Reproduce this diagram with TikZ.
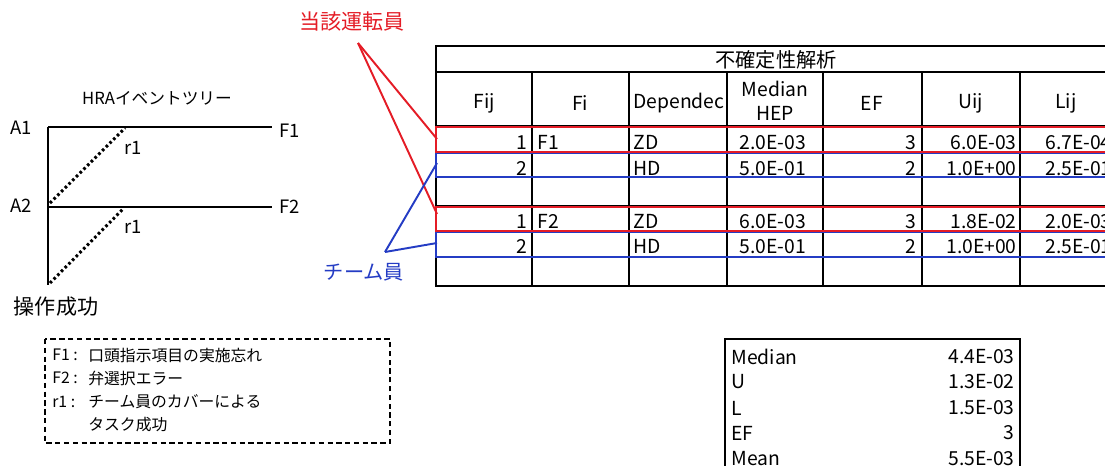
\documentclass[tikz,border=0pt]{standalone}
\usepackage{fontspec}
\setmainfont{Noto Sans CJK JP}
\usepackage{tikz}
\usetikzlibrary{positioning}
\definecolor{opred}{RGB}{228,28,38}
\definecolor{teamblue}{RGB}{36,60,196}
\tikzstyle{treeline} = [line width=1.7pt]
\tikzstyle{coverline} = [line width=1.7pt, dash pattern=on 1.5pt off 1.5pt]
\tikzstyle{treelabel} = [inner sep=0pt, font=\fontsize{10.5}{12}\selectfont]
\tikzstyle{cell} = [inner sep=0pt, anchor=base, font=\fontsize{11}{14}\selectfont]
\tikzstyle{tablegrid} = [line width=0.9pt]
\tikzstyle{redbox} = [draw=opred, line width=1.4pt]
\tikzstyle{bluebox} = [draw=teamblue, line width=1pt]
\tikzstyle{redline} = [opred, line width=1.1pt]
\tikzstyle{blueline} = [teamblue, line width=1.1pt]
\tikzstyle{legendtext} = [inner sep=0pt, anchor=west, font=\fontsize{9}{11}\selectfont]

\begin{document}
\begin{tikzpicture}[x=0.02cm, y=-0.02cm]
\path[use as bounding box, clip] (0,0) rectangle (1105,466);

% event tree
\coordinate (a1) at (48,127);
\coordinate (f1end) at (272,127);
\coordinate (a2) at (48,207);
\coordinate (f2end) at (272,207);
\coordinate (succ) at (48,285);
\coordinate (r1a) at (125,128);
\coordinate (r1b) at (124,208);
\node[inner sep=0pt, font=\fontsize{9.5}{11}\selectfont] (treetitle) at (157,98) {HRAイベントツリー};
\node[treelabel] (A1) at (21,128) {A1};
\node[treelabel] (A2) at (21,206) {A2};
\node[treelabel] (F1) at (290,131) {F1};
\node[treelabel] (F2) at (290,207) {F2};
\node[treelabel] (r1up) at (133,148) {r1};
\node[treelabel] (r1low) at (133,227) {r1};
\node[inner sep=0pt, font=\fontsize{12}{14}\selectfont] (success) at (56,307) {操作成功};
\draw[treeline] (a1) -- (f1end);
\draw[treeline] (a2) -- (f2end);
\draw[treeline] (a1) -- (succ);
\draw[coverline] ([shift={(2,-4)}]a2) -- (r1a);
\draw[coverline] ([shift={(2,-2)}]succ) -- (r1b);

% legend
\draw[line width=0.7pt, dash pattern=on 3pt off 2pt] (45,339) rectangle (390,443);
\node[legendtext] (keyF1) at (52,355) {F1 :};
\node[legendtext] (keyF2) at (52,378) {F2 :};
\node[legendtext] (keyr1) at (52,402) {r1 :};
\node[legendtext] (txtF1) at (88,355) {口頭指示項目の実施忘れ};
\node[legendtext] (txtF2) at (88,378) {弁選択エラー};
\node[legendtext] (txtr1) at (88,402) {チーム員のカバーによる};
\node[legendtext] (txtr1b) at (88,425) {タスク成功};

% uncertainty table
\draw[tablegrid] (436,46) rectangle (1116,286);
\foreach \y in {72,126,153,177,206,231,257}
  \draw[tablegrid] (436,\y) -- (1116,\y);
\foreach \x in {532,629,727,823,922,1020}
  \draw[tablegrid] (\x,72) -- (\x,286);
\node[cell, anchor=center, font=\fontsize{11.5}{14}\selectfont] (tabtitle) at (776,60) {不確定性解析};
\node[cell, anchor=center] (hFij) at (484,103) {Fij};
\node[cell, anchor=center] (hFi) at (580,103) {Fi};
\node[cell, anchor=west] (hDep) at (633,103) {Dependec};
\node[cell, anchor=center, align=center] (hMed) at (775,101) {Median\\HEP};
\node[cell, anchor=center] (hEF) at (872,103) {EF};
\node[cell, anchor=center] (hUij) at (971,103) {Uij};
\node[cell, anchor=center] (hLij) at (1066,103) {Lij};
\foreach \y/\fijv/\fiv/\depv/\medv/\efv/\uijv/\lijv [count=\rw] in
  {150/1/F1/ZD/2.0E-03/3/6.0E-03/6.7E-04,
   175/2//HD/5.0E-01/2/1.0E+00/2.5E-01,
   228/1/F2/ZD/6.0E-03/3/1.8E-02/2.0E-03,
   253/2//HD/5.0E-01/2/1.0E+00/2.5E-01}
{
  \node[cell, anchor=base east] (fij\rw) at (528,\y) {\fijv};
  \node[cell, anchor=base west] (fi\rw) at (537,\y) {\fiv};
  \node[cell, anchor=base west] (dep\rw) at (633,\y) {\depv};
  \node[cell, anchor=base west] (med\rw) at (739,\y) {\medv};
  \node[cell, anchor=base east] (ef\rw) at (917,\y) {\efv};
  \node[cell, anchor=base east] (uij\rw) at (1017,\y) {\uijv};
  \node[cell, anchor=base east] (lij\rw) at (1112,\y) {\lijv};
}
\draw[redbox] (436,127) rectangle (1116,152);
\draw[bluebox] (436,153.5) rectangle (1116,177);
\draw[redbox] (436,207) rectangle (1116,231);
\draw[bluebox] (436,232.5) rectangle (1116,257);

% operator / team annotations
\node[inner sep=0pt, text=opred, font=\fontsize{12}{14}\selectfont] (operator) at (352,22) {当該運転員};
\node[inner sep=0pt, text=teamblue, font=\fontsize{11.5}{14}\selectfont] (team) at (364,272) {チーム員};
\coordinate (opTip) at (358,43);
\coordinate (teamTip) at (385,252);
\coordinate (opRow1) at (437,139);
\coordinate (opRow2) at (437,214);
\coordinate (teamRow1) at (437,163);
\coordinate (teamRow2) at (437,243);
\draw[redline] (opTip) -- (opRow1);
\draw[redline] (opTip) -- (opRow2);
\draw[blueline] (teamTip) -- (teamRow1);
\draw[blueline] (teamTip) -- (teamRow2);

% result summary
\draw[line width=1.1pt] (725,339) rectangle (1020,480);
\foreach \y/\skey/\sval [count=\sn] in
  {357/Median/4.4E-03, 382/U/1.3E-02, 408/L/1.5E-03, 433/EF/3, 459/Mean/5.5E-03}
{
  \node[cell, anchor=west] (sumkey\sn) at (731,\y) {\skey};
  \node[cell, anchor=east] (sumval\sn) at (1015,\y) {\sval};
}
\end{tikzpicture}
\end{document}
